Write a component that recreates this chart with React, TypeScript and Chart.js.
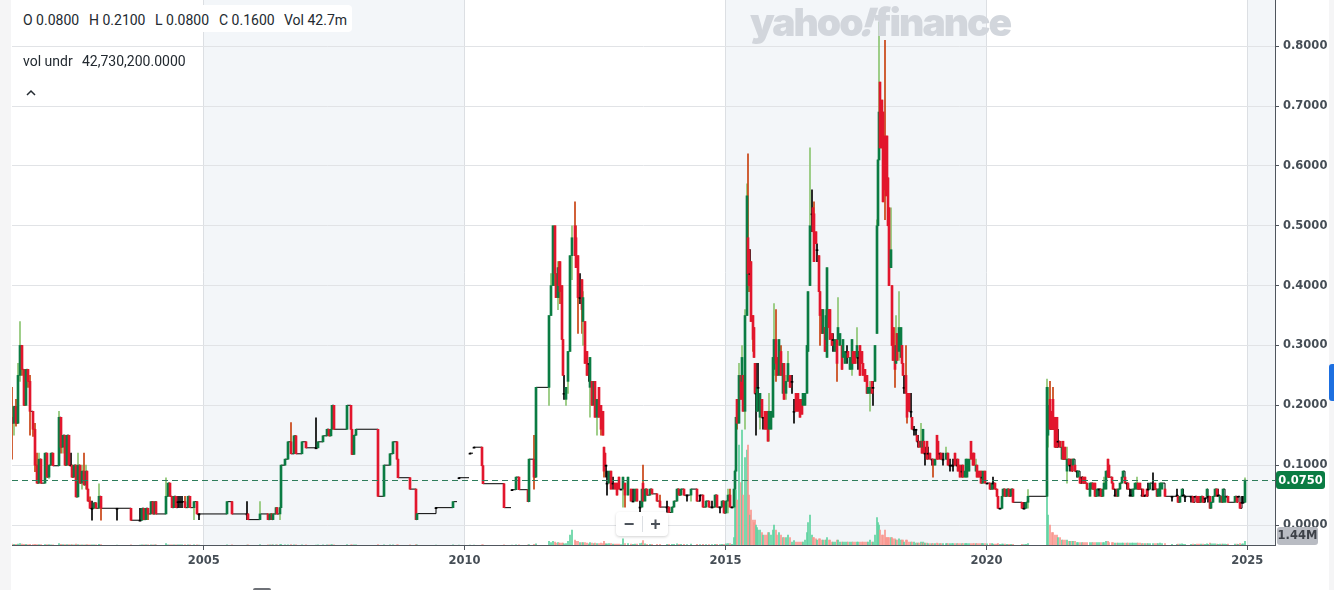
import React, { useEffect, useRef } from 'react';
import { Chart, registerables } from 'chart.js';
Chart.register(...registerables);

// [week since 2001-01-01, open, high, low, close, volume (millions)]
type Row = [number, number, number, number, number, number];

const early: Row[] = [
  [17,.18,.23,.11,.17,.4],[19,.17,.19,.15,.198,.3],[21,.198,.21,.165,.17,.3],[23,.17,.27,.17,.25,.4],
  [25,.25,.34,.24,.30,.6],[27,.30,.30,.25,.26,.4],[29,.26,.26,.20,.20,.3],[31,.20,.26,.20,.26,.3],
  [33,.26,.26,.23,.24,.2],[35,.24,.25,.15,.19,.3],[38,.19,.19,.148,.16,.2],[40,.16,.17,.089,.10,.3],
  [42,.10,.12,.07,.07,.2],[44,.07,.12,.07,.11,.2],[46,.11,.11,.07,.07,.2],[50,.07,.12,.07,.12,.2],
  [52,.12,.12,.08,.08,.2],[54,.08,.10,.078,.10,.2],[56,.10,.12,.10,.12,.1],[58,.12,.12,.099,.099,.1],
  [64,.099,.19,.099,.18,.6],[66,.18,.18,.12,.13,.3],[68,.13,.15,.12,.15,.2],[70,.15,.15,.10,.10,.2],
  [72,.10,.15,.10,.15,.2],[74,.15,.15,.10,.10,.2],[76,.10,.12,.10,.10,.1],[77,.10,.10,.08,.08,.2],
  [79,.08,.10,.08,.10,.1],[81,.10,.10,.047,.047,.4],[83,.047,.12,.047,.10,.2],[85,.10,.10,.07,.07,.1],
  [87,.07,.10,.06,.09,.1],[89,.09,.12,.067,.067,.1],[91,.067,.10,.06,.09,.1],[92,.09,.09,.06,.06,.1],
  [93,.06,.06,.04,.04,.1],[95,.04,.047,.028,.028,.1],[97,.028,.04,.008,.028,.1],[99,.028,.037,.028,.037,.1],
  [101,.037,.037,.028,.028,.1],[104,.028,.069,.028,.048,.3],[106,.048,.048,.008,.028,.2],[122,.028,.028,.008,.028,0],
  [136,.028,.028,.008,.008,.1],[145,.008,.028,.008,.008,0],[147,.008,.028,.008,.028,.1],[149,.028,.028,.009,.009,.1],
  [151,.009,.028,.009,.028,.1],[153,.028,.028,.009,.0185,.1],[156,.0185,.039,.0185,.039,.1],[158,.039,.039,.0185,.0185,.1],
  [160,.0185,.039,.0185,.039,.1],[161,.039,.039,.0185,.0185,.1],[171,.0185,.079,.0185,.048,.6],[173,.048,.07,.048,.07,.1],
  [175,.07,.07,.048,.048,.1],[177,.048,.048,.029,.029,.1],[179,.029,.048,.029,.048,.1],[181,.048,.048,.029,.029,.1],
  [183,.039,.048,.029,.039,.1],[185,.039,.048,.029,.039,.1],[187,.039,.048,.029,.039,.1],[190,.039,.048,.029,.029,.1],
  [193,.029,.048,.029,.048,.1],[195,.048,.048,.029,.029,.1],[199,.029,.039,.009,.039,.1],[202,.039,.039,.0185,.0185,.1],
  [204,.0185,.0185,.009,.0185,0],[232,.0185,.039,.0185,.039,.1],[237,.039,.039,.0185,.0185,.1],[252,.0185,.039,.009,.0185,0],
  [253,.0185,.0185,.009,.009,.1],[265,.009,.039,.009,.0185,.2],[273,.0185,.0185,.009,.009,.1],[275,.009,.0185,.009,.0185,.1],
  [277,.0185,.0185,.009,.009,.1],[278,.009,.0185,.009,.0185,.1],[281,.0185,.029,.0185,.029,.1],[282,.029,.029,.0185,.0185,.1],
  [285,.0185,.029,.009,.029,.2],[286,.029,.10,.029,.10,.3],[290,.10,.11,.10,.11,.1],[293,.11,.139,.11,.139,.1],
  [296,.139,.171,.119,.119,.2],[299,.119,.149,.119,.149,.1],[301,.149,.149,.119,.119,.1],[307,.119,.139,.119,.139,.1],
  [311,.139,.139,.129,.129,.1],[321,.129,.179,.129,.129,0],[323,.129,.139,.129,.139,.1],[328,.139,.149,.139,.149,.1],
  [332,.149,.16,.149,.16,.1],[334,.16,.16,.149,.149,.1],[336,.149,.16,.149,.16,.1],[337,.16,.20,.16,.20,.2],
  [339,.20,.20,.16,.16,.1],[352,.16,.20,.16,.20,.2],[356,.20,.20,.16,.16,.1],[357,.16,.16,.118,.118,.1],
  [359,.118,.15,.118,.15,.1],[361,.15,.16,.15,.16,.1],[383,.16,.16,.048,.048,.2],[389,.048,.10,.048,.10,.1],
  [395,.10,.119,.10,.119,.1],[398,.119,.139,.119,.139,.1],[402,.139,.139,.11,.11,.1],[403,.11,.11,.079,.079,.1],
  [415,.079,.079,.06,.06,.1],[421,.06,.06,.009,.009,.2],[422,.009,.019,.009,.019,.1],[441,.029,.029,.029,.029,0],
  [458,.029,.039,.029,.039,.1],[464,.079,.079,.079,.079,0],[475,.12,.12,.12,.12,0],[479,.13,.13,.13,.13,0],
  [487,.13,.13,.099,.099,.1],[488,.099,.099,.069,.069,.1],[509,.069,.069,.029,.029,.1],[517,.059,.059,.059,.059,0],
  [521,.059,.08,.059,.08,.1],[524,.08,.08,.059,.059,.1],[533,.059,.059,.039,.039,.1],[534,.039,.11,.039,.11,.2],
  [539,.11,.15,.06,.08,.3],[541,.08,.23,.08,.23,.5],
];
const earlyGaps = [462, 474, 478, 516];
const earlyFlatUntil = 554;

const boom2011: Row[] = [
  [554,.23,.35,.20,.35,1.5],[556,.35,.42,.35,.40,1],[558,.40,.50,.40,.50,1.5],[560,.50,.50,.40,.42,1.2],
  [561,.42,.42,.38,.38,.8],[563,.38,.44,.36,.43,1],[564,.43,.44,.38,.40,.8],[565,.44,.44,.37,.39,.8],
  [567,.40,.40,.31,.31,.8],[568,.31,.31,.25,.25,.8],[569,.22,.25,.21,.22,.5],[571,.21,.23,.20,.23,.6],
  [573,.24,.29,.22,.29,1.5],[575,.29,.45,.29,.45,4],[577,.45,.50,.41,.48,6],[580,.50,.54,.45,.45,2],
  [581,.48,.50,.43,.43,1.5],[583,.45,.45,.32,.38,1.5],[585,.38,.42,.37,.38,1],[587,.41,.41,.32,.36,1],
  [588,.34,.39,.30,.38,1],[590,.34,.34,.27,.27,1],[592,.29,.29,.25,.25,.8],[594,.27,.27,.24,.27,.5],
  [595,.23,.28,.18,.28,1],[597,.24,.24,.20,.20,.8],[599,.20,.24,.20,.24,.6],[600,.24,.24,.18,.18,.8],
  [602,.18,.21,.15,.21,.6],[604,.23,.23,.18,.18,.6],[606,.20,.20,.15,.16,.8],[608,.19,.19,.15,.15,.6],
  [609,.13,.13,.08,.09,1.5],[610,.12,.12,.10,.10,.6],[611,.10,.10,.08,.10,.4],[612,.07,.09,.05,.07,.5],
  [614,.07,.09,.07,.09,.6],[616,.09,.09,.06,.06,.6],[618,.07,.08,.06,.07,.4],[620,.07,.07,.06,.06,.4],
  [622,.07,.07,.05,.05,.4],[624,.08,.08,.06,.06,.4],[626,.06,.06,.06,.06,.2],[628,.06,.08,.03,.08,2.5],
  [630,.07,.07,.03,.05,.6],[633,.05,.08,.05,.08,.6],[636,.06,.06,.04,.04,.4],[638,.04,.06,.04,.04,.3],
  [640,.04,.06,.04,.06,.4],[642,.06,.06,.04,.04,.4],[645,.03,.04,.02,.03,.6],[647,.03,.06,.03,.06,.8],
  [648,.07,.10,.04,.04,1.8],
];

const quiet2013: Row[] = [
  [650,.04,.06,.04,.06,.5],[652,.06,.06,.05,.05,.3],[655,.05,.06,.05,.06,.3],[657,.06,.06,.052,.052,.3],
  [662,.052,.052,.04,.04,.3],[665,.04,.05,.03,.03,.3],[672,.03,.04,.021,.03,.3],[674,.03,.03,.021,.021,.3],
  [677,.021,.03,.021,.03,.3],[679,.03,.04,.03,.04,.3],[682,.04,.06,.04,.06,.5],[684,.06,.06,.05,.05,.3],
  [686,.05,.06,.05,.06,.3],[689,.06,.06,.05,.05,.3],[692,.05,.05,.04,.05,.2],[696,.05,.06,.04,.06,.4],
  [702,.06,.06,.04,.04,.3],[705,.05,.05,.04,.05,.2],[708,.05,.05,.03,.03,.3],[711,.03,.04,.03,.04,.2],
  [714,.04,.04,.03,.03,.2],[717,.03,.04,.03,.03,.2],[720,.03,.05,.03,.05,.3],[722,.05,.05,.03,.03,.3],
  [725,.03,.03,.02,.03,.2],[727,.03,.04,.03,.04,.3],[729,.04,.04,.02,.02,.3],[731,.02,.04,.02,.04,.5],
  [733,.04,.06,.02,.05,.6],[735,.05,.06,.03,.03,.6],[737,.03,.03,.03,.03,.3],[739,.03,.06,.03,.06,3],
];

const boom2015: Row[] = [
  [740,.06,.09,.06,.09,30],[741,.09,.18,.09,.18,22],[742,.21,.21,.16,.17,18],[744,.17,.27,.17,.25,40],
  [746,.25,.25,.21,.21,25],[747,.24,.30,.22,.28,46],[748,.25,.25,.19,.19,20],[750,.19,.36,.16,.35,35],
  [752,.35,.57,.35,.55,38],[753,.48,.62,.41,.42,40],[754,.46,.46,.39,.40,20],[755,.42,.46,.40,.42,12],
  [756,.44,.44,.34,.34,14],[758,.35,.35,.29,.31,10],[759,.33,.33,.28,.28,9],[760,.27,.27,.22,.22,10],
  [761,.22,.27,.15,.22,8],[762,.19,.23,.19,.23,7],[763,.23,.27,.19,.23,6],[765,.18,.22,.16,.22,6],
  [767,.21,.21,.18,.18,5],[768,.18,.18,.16,.18,4],[770,.19,.19,.16,.16,4],[772,.19,.19,.16,.16,4],
  [773,.19,.19,.14,.14,5],[774,.16,.22,.14,.19,5],[776,.16,.19,.16,.19,4],[778,.18,.28,.18,.28,6],
  [779,.26,.37,.25,.31,8],[781,.31,.36,.24,.27,6],[782,.28,.28,.25,.25,4],[784,.25,.31,.25,.31,5],
  [786,.29,.30,.25,.25,4],[788,.22,.27,.22,.27,3],[789,.27,.27,.21,.21,3],[791,.22,.25,.21,.24,3],
  [793,.24,.29,.24,.27,4],[795,.25,.25,.23,.23,3],[797,.24,.25,.22,.24,1.2],[799,.19,.21,.17,.19,1.8],
  [801,.22,.22,.19,.19,1.2],[803,.22,.22,.19,.19,1.2],[805,.21,.21,.18,.18,1.2],[807,.21,.21,.185,.185,1.2],
  [808,.20,.22,.20,.22,1.2],[810,.20,.22,.20,.22,2],[812,.22,.30,.22,.30,5],[813,.29,.39,.29,.39,9],
  [815,.40,.63,.40,.50,12],[817,.52,.56,.49,.52,4],[818,.53,.53,.49,.49,3],[819,.52,.54,.44,.44,3],
  [821,.49,.49,.47,.47,2.5],[822,.46,.47,.44,.46,2],[824,.45,.45,.39,.39,2.5],[825,.39,.39,.30,.35,2.5],
  [827,.36,.36,.32,.32,2],[828,.32,.36,.32,.36,2],[830,.33,.33,.29,.29,2],[831,.31,.36,.31,.35,2],
  [832,.28,.43,.28,.43,3],[834,.36,.36,.33,.33,2],[835,.36,.36,.31,.31,2],[837,.32,.32,.30,.30,1.2],
  [838,.31,.32,.29,.31,1.2],[840,.29,.31,.29,.31,1.2],[842,.31,.31,.24,.27,2],[843,.31,.38,.30,.33,2],
  [845,.30,.32,.30,.32,1.2],[847,.30,.30,.26,.26,1.2],[848,.28,.31,.28,.31,1.2],[850,.27,.29,.27,.29,1.2],
  [852,.29,.30,.27,.29,1.2],[853,.29,.29,.28,.28,1.2],[855,.26,.28,.26,.28,1.2],[857,.26,.31,.25,.31,1.2],
  [858,.29,.29,.27,.27,1.2],[860,.29,.29,.27,.27,1.2],[862,.28,.33,.27,.30,1.2],[863,.28,.29,.26,.28,1.2],
  [865,.30,.30,.25,.25,1.2],[867,.29,.29,.27,.27,1.2],[868,.27,.27,.25,.25,1.2],[870,.26,.26,.24,.24,1.2],
  [872,.25,.25,.22,.22,1.2],[873,.22,.23,.22,.23,1.2],[875,.22,.24,.19,.23,2],[877,.24,.24,.22,.22,1.2],
  [878,.23,.24,.20,.23,1.2],[880,.24,.30,.24,.30,4],[882,.32,.51,.32,.50,11],[883,.50,.61,.50,.61,9],
  [884,.61,.84,.61,.69,8],[885,.74,.74,.63,.63,6],[887,.71,.71,.63,.63,4],[888,.69,.69,.54,.54,4],
  [890,.65,.81,.51,.56,6],[891,.62,.62,.55,.55,3],[892,.65,.65,.575,.575,3],[893,.58,.58,.50,.50,3],
  [894,.53,.53,.40,.40,3],[896,.43,.53,.43,.46,3],[897,.40,.40,.30,.30,3],[898,.33,.33,.275,.275,2.5],
  [900,.30,.33,.23,.26,2.5],[901,.27,.35,.27,.30,2],[902,.32,.32,.275,.275,2],[904,.29,.39,.275,.33,2.5],
  [906,.28,.33,.28,.33,2],[907,.30,.30,.27,.27,2],[908,.27,.27,.25,.25,2],[909,.23,.25,.22,.23,1.2],
  [911,.25,.30,.22,.22,2],[912,.22,.22,.17,.18,2],[914,.22,.22,.19,.19,1.2],[916,.19,.22,.18,.19,1.2],
  [917,.18,.18,.16,.16,1.2],[919,.16,.165,.15,.16,1.2],[921,.16,.16,.15,.16,.8],[922,.15,.15,.14,.14,.8],
  [923,.14,.15,.13,.14,.8],[924,.14,.14,.13,.13,.8],[926,.13,.17,.13,.14,1.2],[927,.14,.14,.12,.12,.8],
  [928,.13,.16,.13,.16,1.2],[929,.14,.14,.12,.12,.8],[930,.12,.13,.10,.12,.8],[932,.14,.14,.11,.11,.8],
  [933,.12,.13,.11,.12,.6],[935,.12,.12,.11,.11,.6],[937,.11,.11,.10,.11,.6],[938,.11,.11,.08,.10,.6],
  [940,.10,.11,.10,.11,.6],[942,.15,.15,.11,.11,.8],[943,.14,.14,.11,.11,.6],[945,.12,.12,.11,.12,.6],
  [946,.12,.12,.11,.11,.6],[948,.11,.12,.10,.11,.6],[951,.11,.13,.11,.12,.6],[952,.11,.12,.11,.12,.6],
  [953,.12,.12,.10,.10,.6],[955,.10,.11,.09,.10,.6],[957,.10,.10,.10,.10,.6],[958,.10,.11,.09,.10,.6],
  [960,.12,.12,.10,.10,.6],[962,.10,.11,.10,.10,.6],[963,.11,.11,.09,.09,.6],[965,.10,.10,.08,.08,.6],
  [967,.09,.10,.08,.09,.6],[968,.10,.10,.08,.08,.6],[970,.08,.09,.08,.09,.6],[971,.09,.11,.08,.11,.6],
  [972,.08,.11,.08,.11,.6],[974,.09,.11,.09,.11,.6],[976,.14,.14,.11,.11,.6],[978,.12,.12,.10,.10,.6],
  [979,.12,.12,.10,.10,.6],[981,.09,.11,.09,.10,.6],[982,.10,.10,.08,.08,.6],[984,.09,.09,.08,.08,.6],
  [986,.09,.09,.07,.07,.6],[987,.08,.08,.07,.08,.6],[988,.07,.09,.07,.09,.6],[990,.09,.09,.07,.07,.6],
];

const late2020: Row[] = [
  [992,.07,.07,.07,.07,.5],[995,.07,.07,.06,.06,.6],[997,.06,.07,.06,.07,.6],[998,.07,.08,.06,.07,.4],
  [1000,.07,.07,.06,.06,.4],[1002,.06,.06,.048,.048,.4],[1003,.048,.048,.028,.028,.6],[1005,.028,.028,.028,.028,.3],
  [1007,.028,.048,.028,.048,.4],[1008,.048,.06,.048,.06,.4],[1010,.06,.06,.048,.048,.4],[1012,.048,.06,.048,.06,.3],
  [1014,.06,.06,.048,.048,.3],[1016,.048,.06,.048,.06,.3],[1018,.06,.06,.038,.038,.3],[1027,.038,.038,.028,.028,.3],
  [1029,.028,.038,.028,.028,.2],[1031,.028,.038,.028,.038,.3],[1033,.038,.059,.028,.048,.6],[1052,.048,.244,.048,.23,23],
  [1053,.15,.23,.13,.20,12],[1055,.21,.24,.16,.16,8],[1057,.19,.19,.16,.16,5],[1058,.21,.23,.16,.16,5],
  [1060,.18,.18,.13,.13,4],[1062,.18,.18,.13,.13,4],[1063,.14,.16,.13,.14,3],[1065,.14,.14,.13,.13,3],
  [1067,.11,.14,.11,.13,2],[1068,.14,.14,.11,.11,2],[1070,.13,.13,.11,.11,2],[1072,.09,.13,.07,.11,2],
  [1074,.11,.11,.10,.10,1.5],[1075,.10,.11,.09,.10,1.5],[1077,.11,.11,.09,.09,1.5],[1078,.10,.11,.10,.11,1.5],
  [1080,.10,.10,.09,.09,1.5],[1082,.09,.09,.08,.09,1],[1083,.08,.09,.08,.09,1],[1085,.08,.08,.07,.07,1],
  [1087,.08,.08,.07,.08,1],[1088,.08,.08,.07,.07,1],[1090,.08,.08,.07,.07,1],[1092,.07,.07,.06,.06,1],
  [1095,.048,.07,.048,.07,1],[1097,.06,.07,.06,.07,1],[1098,.07,.07,.06,.06,1],[1100,.07,.07,.048,.048,1],
  [1102,.048,.06,.048,.06,1],[1104,.06,.06,.048,.06,1],[1106,.06,.06,.048,.048,1],[1108,.048,.06,.048,.06,1],
  [1109,.06,.08,.06,.07,1],[1111,.06,.09,.06,.09,1.5],[1113,.11,.11,.08,.08,1.5],[1114,.10,.10,.08,.08,1],
  [1117,.08,.08,.07,.07,1],[1118,.07,.07,.06,.06,1],[1120,.05,.06,.048,.05,.8],[1122,.06,.06,.048,.048,.8],
  [1123,.048,.06,.048,.06,.8],[1125,.06,.07,.06,.07,.8],[1127,.07,.08,.07,.08,.8],[1128,.08,.09,.08,.09,.8],
  [1130,.08,.08,.07,.07,.8],[1132,.07,.07,.06,.07,.8],[1133,.07,.07,.06,.06,.8],[1135,.05,.06,.048,.05,.8],
  [1137,.05,.06,.048,.05,.8],[1138,.048,.06,.048,.06,.8],[1140,.06,.07,.06,.07,.8],[1142,.06,.08,.06,.07,.8],
  [1143,.07,.07,.06,.06,.8],[1145,.07,.07,.06,.06,.8],[1147,.05,.06,.048,.05,.6],[1148,.06,.06,.048,.048,.6],
  [1150,.05,.05,.048,.05,.6],[1152,.06,.06,.048,.048,.6],[1153,.06,.07,.06,.06,.6],[1155,.06,.07,.06,.07,.6],
  [1158,.06,.087,.06,.06,.6],[1160,.07,.07,.06,.06,.6],[1162,.06,.06,.048,.048,.6],[1163,.048,.06,.048,.06,.6],
  [1165,.048,.07,.048,.07,.8],[1167,.06,.07,.06,.07,.6],[1170,.06,.06,.048,.048,.6],[1177,.048,.048,.04,.048,.3],
  [1182,.05,.06,.048,.05,.3],[1183,.048,.048,.038,.038,.4],[1185,.038,.048,.038,.048,.4],[1187,.048,.06,.048,.06,.5],
  [1188,.05,.06,.05,.05,.3],[1190,.048,.048,.039,.048,.3],[1196,.048,.048,.038,.048,.3],[1198,.048,.048,.038,.038,.4],
  [1200,.048,.048,.048,.048,.3],[1202,.048,.048,.038,.038,.4],[1204,.048,.048,.038,.038,.4],[1206,.038,.048,.038,.048,.4],
  [1208,.048,.048,.038,.038,.4],[1210,.045,.045,.038,.045,.3],[1212,.048,.06,.048,.06,.5],[1213,.048,.048,.038,.048,.3],
  [1215,.048,.048,.028,.028,.8],[1216,.028,.038,.028,.038,.5],[1218,.038,.048,.038,.048,.5],[1220,.048,.06,.048,.06,.5],
  [1222,.06,.06,.048,.048,.4],[1223,.05,.06,.048,.05,.3],[1225,.038,.048,.038,.048,.4],[1227,.048,.048,.038,.038,.4],
  [1228,.038,.06,.038,.06,.4],[1230,.038,.048,.038,.048,.4],[1232,.048,.048,.048,.048,.3],[1233,.048,.048,.038,.038,.4],
  [1240,.038,.048,.038,.048,.4],[1242,.048,.048,.038,.038,.4],[1243,.048,.048,.048,.048,.3],[1245,.038,.038,.028,.028,.6],
  [1247,.038,.048,.038,.038,.4],[1248,.038,.048,.038,.038,.5],[1250,.038,.079,.038,.075,1.44],
];

const yearLabels = [2005, 2010, 2015, 2020, 2025];
const shadedSpans: [number, number][] = [[2005, 2010], [2015, 2020], [2025, 2030]];
const priceTicks = [0, 0.1, 0.2, 0.3, 0.4, 0.5, 0.6, 0.7, 0.8];
const lastPrice = 0.075;
const lastPriceLabel = '0.0750';
const lastVolumeLabel = '1.44M';
const WEEKS_PER_YEAR = 52.18;

const UP_BODY = '#0a7c43';
const UP_WICK = '#8cc572';
const DOWN_BODY = '#e2162d';
const DOWN_WICK = '#c8400f';
const FLAT = '#000000';
const UP_VOL = '#5fd3a0';
const DOWN_VOL = '#f9968f';
const BAND = '#f3f6f9';
const AXIS = '#50565e';
const TICK_TXT = '#464e56';
const GRID = '#e1e3e6';

const yearToWeek = (y: number) => (y - 2001) * WEEKS_PER_YEAR;
const dir = (r: Row) => (r[4] > r[1] ? 1 : r[4] < r[1] ? -1 : 0);

function stepSegment(rows: Row[], gaps: number[], flatUntil?: number) {
  const pts: { x: number; y: number | null }[] = [];
  let gi = 0;
  for (const r of rows) {
    while (gi < gaps.length && gaps[gi] < r[0]) {
      const last = pts[pts.length - 1];
      pts.push({ x: gaps[gi], y: last ? last.y : null });
      pts.push({ x: gaps[gi] + 0.01, y: null });
      gi++;
    }
    pts.push({ x: r[0], y: r[4] });
  }
  const lastRow = rows[rows.length - 1];
  let endX = lastRow[0];
  if (flatUntil !== undefined) {
    pts.push({ x: flatUntil, y: lastRow[4] });
    endX = flatUntil;
  }
  pts.push({ x: endX + 0.01, y: null });
  return pts;
}

export default function App() {
  const ref = useRef<HTMLCanvasElement>(null);

  useEffect(() => {
    const canvas = ref.current;
    if (!canvas) return;
    const allRows = [...early, ...boom2011, ...quiet2013, ...boom2015, ...late2020];
    const stepData = [
      ...stepSegment(early, earlyGaps, earlyFlatUntil),
      ...stepSegment(quiet2013, []),
      ...stepSegment(late2020, []),
    ];
    const tickFont = { family: "'DejaVu Sans', Arial, sans-serif", weight: 'bold' as const };

    const bandsPlugin = {
      id: 'bands',
      beforeDraw(chart: any) {
        const { ctx, chartArea: a, scales } = chart;
        const x = scales.x;
        ctx.save();
        ctx.fillStyle = BAND;
        for (const [s, e] of shadedSpans) {
          const x0 = Math.max(x.getPixelForValue(yearToWeek(s)), a.left);
          const x1 = Math.min(x.getPixelForValue(yearToWeek(e)), a.right);
          if (x1 > x0) ctx.fillRect(x0, a.top, x1 - x0, a.bottom - a.top);
        }
        ctx.restore();
      },
    };

    const lastPlugin = {
      id: 'lastPrice',
      afterDatasetsDraw(chart: any) {
        const { ctx, chartArea: a, scales } = chart;
        const py = Math.round(scales.y.getPixelForValue(lastPrice)) + 0.5;
        ctx.save();
        ctx.strokeStyle = '#2e7d5b';
        ctx.lineWidth = 1;
        ctx.setLineDash([6, 4]);
        ctx.beginPath();
        ctx.moveTo(a.left, py);
        ctx.lineTo(a.right, py);
        ctx.stroke();
        ctx.restore();
      },
      afterDraw(chart: any) {
        const { ctx, chartArea: a, scales } = chart;
        const py = scales.y.getPixelForValue(lastPrice);
        ctx.save();
        ctx.fillStyle = '#0a7c43';
        ctx.beginPath();
        (ctx as any).roundRect(a.right + 1, py - 9, 49, 18, 3);
        ctx.fill();
        ctx.fillStyle = '#ffffff';
        ctx.font = "bold 11.5px 'DejaVu Sans', Arial, sans-serif";
        ctx.textAlign = 'center';
        ctx.textBaseline = 'middle';
        ctx.fillText(lastPriceLabel, a.right + 25.5, py + 0.5);
        ctx.fillStyle = '#b9bcc3';
        ctx.beginPath();
        (ctx as any).roundRect(a.right + 2, a.bottom - 18, 41, 18, 3);
        ctx.fill();
        ctx.fillStyle = '#3d4148';
        ctx.fillText(lastVolumeLabel, a.right + 22.5, a.bottom - 8.5);
        ctx.restore();
      },
    };

    const chart = new Chart(canvas, {
      type: 'bar',
      data: {
        datasets: [
          {
            type: 'bar',
            label: 'Volume',
            data: allRows.map((r) => ({ x: r[0], y: r[5] })) as any,
            yAxisID: 'v',
            backgroundColor: allRows.map((r) => (dir(r) < 0 ? DOWN_VOL : UP_VOL)),
            barThickness: 1,
            grouped: false,
            order: 4,
          },
          {
            type: 'line',
            label: 'Steps',
            data: stepData as any,
            yAxisID: 'y',
            borderColor: '#000000',
            borderWidth: 1,
            pointRadius: 0,
            pointHoverRadius: 0,
            stepped: 'before',
            spanGaps: false,
            tension: 0,
            fill: false,
            order: 3,
          },
          {
            type: 'bar',
            label: 'Wicks',
            data: allRows.map((r) => ({ x: r[0], y: [r[3], r[2]] })) as any,
            yAxisID: 'y',
            backgroundColor: allRows.map((r) => (dir(r) > 0 ? UP_WICK : dir(r) < 0 ? DOWN_WICK : FLAT)),
            barThickness: 1,
            grouped: false,
            order: 2,
          },
          {
            type: 'bar',
            label: 'Bodies',
            data: allRows.map((r) => ({ x: r[0], y: [Math.min(r[1], r[4]), Math.max(r[1], r[4])] })) as any,
            yAxisID: 'y',
            backgroundColor: allRows.map((r) => (dir(r) > 0 ? UP_BODY : dir(r) < 0 ? DOWN_BODY : FLAT)),
            barThickness: 2,
            minBarLength: 1,
            grouped: false,
            order: 1,
          },
        ],
      },
      options: {
        responsive: false,
        animation: false,
        events: [],
        layout: { padding: { left: 12, top: 0, right: 0, bottom: 0 } },
        plugins: { legend: { display: false }, tooltip: { enabled: false } },
        scales: {
          x: {
            type: 'linear',
            position: 'bottom',
            min: 17,
            max: 1280,
            offset: false,
            grid: { color: '#dcdfe3', offset: false, drawTicks: true, tickLength: 5, tickColor: AXIS },
            border: { display: true, color: AXIS, width: 1 },
            ticks: {
              color: TICK_TXT,
              font: { ...tickFont, size: 11.5 },
              padding: 4,
              maxRotation: 0,
              autoSkip: false,
              callback: (v: any) => String(Math.round(2001 + Number(v) / WEEKS_PER_YEAR)),
            },
            afterBuildTicks: (s: any) => {
              s.ticks = yearLabels.map((y) => ({ value: yearToWeek(y) }));
            },
            afterFit: (s: any) => {
              s.height = 45;
              s.paddingLeft = 0;
              s.paddingRight = 0;
            },
          },
          y: {
            type: 'linear',
            position: 'right',
            min: -0.0334,
            max: 0.8772,
            grid: { color: GRID, drawTicks: true, tickLength: 4, tickColor: AXIS },
            border: { display: true, color: AXIS, width: 1 },
            ticks: {
              color: TICK_TXT,
              font: { ...tickFont, size: 11.5 },
              padding: 4,
              autoSkip: false,
              callback: (v: any) => Number(v).toFixed(4),
            },
            afterBuildTicks: (s: any) => {
              s.ticks = priceTicks.map((v) => ({ value: v }));
            },
            afterFit: (s: any) => {
              s.width = 59;
              s.paddingTop = 0;
              s.paddingBottom = 0;
            },
          },
          v: {
            type: 'linear',
            display: false,
            min: 0,
            max: 218,
          },
        },
      } as any,
      plugins: [bandsPlugin, lastPlugin],
    });
    return () => chart.destroy();
  }, []);

  const hdr: React.CSSProperties = {
    position: 'absolute',
    fontFamily: 'Roboto, Arial, sans-serif',
    fontSize: 14,
    lineHeight: '16px',
    color: '#232a31',
    whiteSpace: 'nowrap',
  };

  return (
    <div style={{ position: 'absolute', left: 0, top: 0, width: 1334, height: 590, background: '#ffffff', overflow: 'hidden' }}>
      <div style={{ position: 'absolute', left: 0, top: 0, width: 11, height: 590, background: '#f5f5f6' }} />
      <div style={{ position: 'absolute', left: 1329, top: 0, width: 5, height: 590, background: '#f5f5f6' }} />
      <canvas ref={ref} width={1334} height={590} style={{ position: 'absolute', left: 0, top: 0, width: 1334, height: 590 }} />
      <div style={{ position: 'absolute', left: 1329, top: 364, width: 5, height: 37, background: '#1d6fe0', borderRadius: '3px 0 0 3px' }} />
      <div
        style={{
          position: 'absolute', left: 750, top: 1, fontFamily: 'Inter, Arial, sans-serif', fontWeight: 900,
          fontSize: 39, lineHeight: '42px', color: '#d2d6dc', letterSpacing: -2, whiteSpace: 'nowrap',
        }}
      >
        yahoo<span style={{ display: 'inline-block', transform: 'skewX(-18deg)' }}>!</span>finance
      </div>
      <div style={{ position: 'absolute', left: 12, top: 5, width: 340, height: 27, background: '#ffffff', borderRadius: 4 }} />
      <div style={{ ...hdr, left: 23, top: 12 }}>O 0.0800</div>
      <div style={{ ...hdr, left: 89, top: 12 }}>H 0.2100</div>
      <div style={{ ...hdr, left: 155, top: 12 }}>L 0.0800</div>
      <div style={{ ...hdr, left: 219, top: 12 }}>C 0.1600</div>
      <div style={{ ...hdr, left: 284, top: 12 }}>Vol 42.7m</div>
      <div style={{ ...hdr, left: 23, top: 53 }}>vol undr</div>
      <div style={{ ...hdr, left: 82, top: 53 }}>42,730,200.0000</div>
      <svg style={{ position: 'absolute', left: 25, top: 88 }} width={12} height={10}>
        <polyline points="2,7 6,3 10,7" fill="none" stroke="#232a31" strokeWidth={1.5} />
      </svg>
      <div
        style={{
          position: 'absolute', left: 616, top: 512, width: 52, height: 24, background: '#ffffff', borderRadius: 4,
          boxShadow: '0 1px 3px rgba(0,0,0,0.18)', fontFamily: 'Arial, sans-serif', fontWeight: 700, fontSize: 18,
          color: '#4b5159', display: 'flex', alignItems: 'center',
        }}
      >
        <span style={{ width: 26, textAlign: 'center', lineHeight: '24px' }}>−</span>
        <span style={{ width: 1, height: 16, background: '#dcdfe3' }} />
        <span style={{ width: 25, textAlign: 'center', lineHeight: '24px' }}>+</span>
      </div>
      <div style={{ position: 'absolute', left: 253, top: 588, width: 18, height: 4, background: '#6e7177', borderRadius: 2 }} />
    </div>
  );
}
